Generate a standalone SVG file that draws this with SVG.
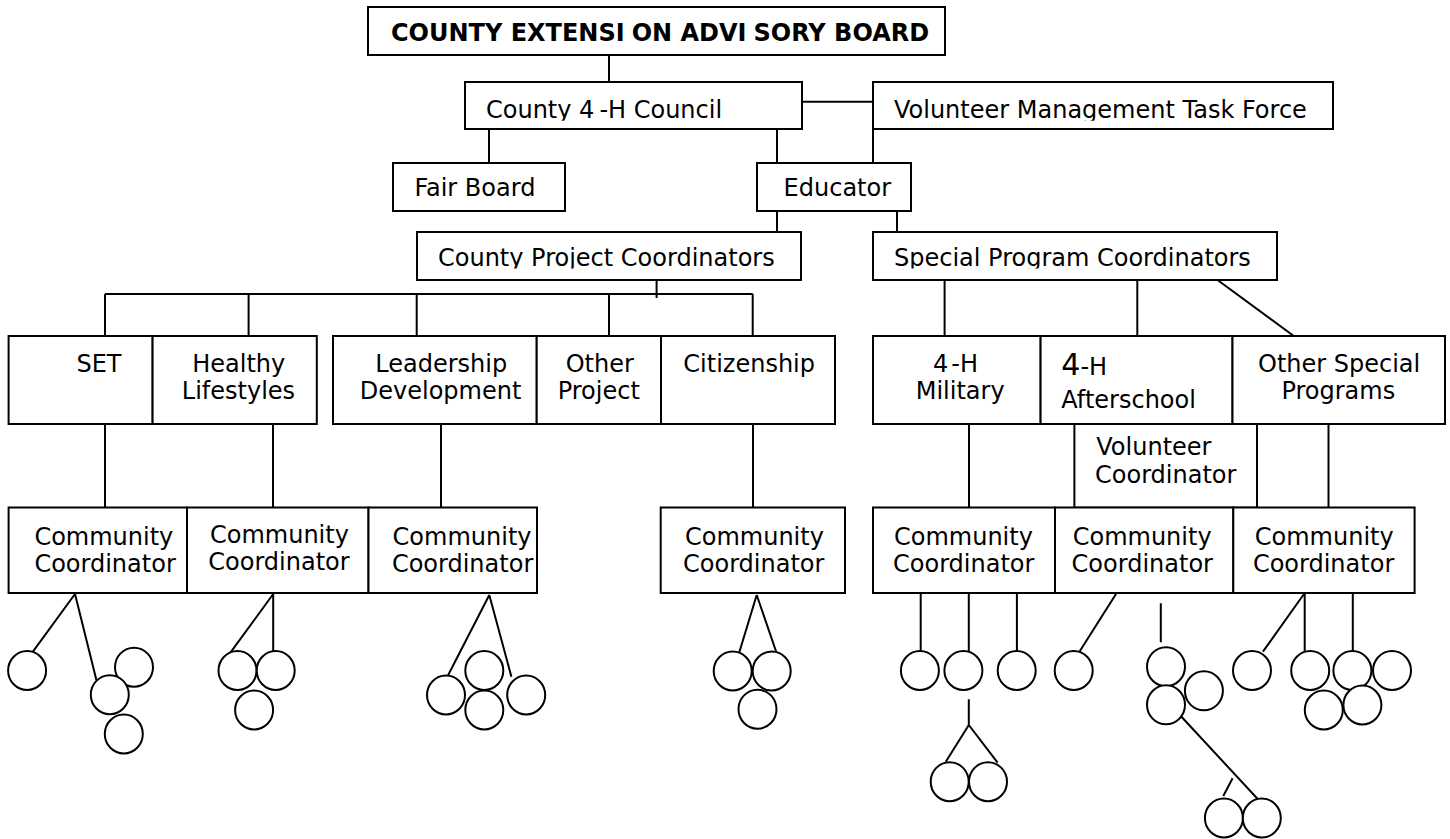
<svg xmlns="http://www.w3.org/2000/svg" width="1450" height="839" viewBox="0 0 1450 839">
<style>
.b{fill:#fff;stroke:#000;stroke-width:2}
.l{stroke:#000;stroke-width:2;fill:none}
.c{fill:#fff;stroke:#000;stroke-width:2}
.t{font-family:"DejaVu Sans",Verdana,sans-serif;font-size:24px;fill:#000}
.h{font-family:"DejaVu Sans",Verdana,sans-serif;font-size:24px;font-weight:bold;fill:#000}
</style>
<defs>
<clipPath id="k1"><rect x="0" y="0" width="1450" height="120.8"/></clipPath>
<clipPath id="k2"><rect x="0" y="0" width="1450" height="268.4"/></clipPath>
</defs>
<rect width="1450" height="839" fill="#fff"/>
<g id="connectors">
<path class="l" d="M609 43V82M801.7 101.7H873M489 123V170M777 123V170M873 129V170M777 207V232M897 207V232M656.6 280V298M105 294H752.7M105 294V342M248.6 294V342M416.7 294V342M609 294V342M752.7 294V342M944.6 273V342M1137.3 273V342M1208 273L1306 345M105 413V510M273 413V510M441 413V510M753 413V510M969 413V510M1328.5 413V510M1184.5 417V437"/>
<path class="l" d="M75 594L32.9 651.7M75 594L96.4 680M273.2 594L230.4 652.7M273.2 594V651.7M489.3 595L448.2 675M489.3 595L511.4 676.7M756.7 595L739 653.3M756.7 595L776.7 653.3"/>
<path class="l" d="M920.7 594V651.7M968.8 594V651.7M1016.9 594V651.7M968.8 699.3V725L945.8 761.7M968.8 725L997.6 762.7M1116 594L1075.3 658.3M1160.8 603.3V642.3M1178.9 714L1257.7 799M1232.6 778.3L1223.3 796M1304.7 593L1262.9 651.7M1304.7 593V651.7M1352.8 593V651.7"/>
</g>
<g id="advisory-board"><rect class="b" x="368" y="7" width="577" height="48"/><text class="h" x="391" y="41">COUNTY EXTENSI<tspan dx="7">ON ADVI</tspan><tspan dx="7">SORY BOARD</tspan></text></g>
<g id="council"><rect class="b" x="465" y="82" width="337" height="47"/><text class="t" x="486" y="118" clip-path="url(#k1)">County 4<tspan dx="5">-H Council</tspan></text></g>
<g id="vmtf"><rect class="b" x="873" y="82" width="460" height="47"/><text class="t" x="894" y="118" clip-path="url(#k1)">Volunteer Management Task Force</text></g>
<g id="fair-board"><rect class="b" x="393" y="163" width="172" height="48"/><text class="t" x="414.4" y="196">Fair Board</text></g>
<g id="educator"><rect class="b" x="757" y="163" width="154" height="48"/><text class="t" x="783.6" y="196">Educator</text></g>
<g id="cpc"><rect class="b" x="417" y="232" width="384" height="48"/><text class="t" x="438" y="265.7" clip-path="url(#k2)">County Project Coordinators</text></g>
<g id="spc"><rect class="b" x="873" y="232" width="404" height="48"/><text class="t" x="894" y="265.7" clip-path="url(#k2)">Special Program Coordinators</text></g>
<g id="set"><rect class="b" x="8.6" y="336" width="144" height="88"/><text class="t" x="76.4" y="371.7">SET</text></g>
<g id="healthy"><rect class="b" x="152.6" y="336" width="164.2" height="88"/><text class="t" x="192.2" y="371.7">Healthy</text><text class="t" x="181.8" y="399">Lifestyles</text></g>
<g id="leadership"><rect class="b" x="333" y="336" width="203.7" height="88"/><text class="t" x="375.3" y="371.7">Leadership</text><text class="t" x="359.8" y="398.5">Development</text></g>
<g id="other-project"><rect class="b" x="536.7" y="336" width="124.3" height="88"/><text class="t" x="565.7" y="371.7">Other</text><text class="t" x="557.7" y="399">Project</text></g>
<g id="citizenship"><rect class="b" x="661" y="336" width="174" height="88"/><text class="t" x="683.3" y="371.7">Citizenship</text></g>
<g id="military"><rect class="b" x="873" y="336" width="167.6" height="88"/><text class="t" x="933" y="371.7">4<tspan dx="3">-H</tspan></text><text class="t" x="915.7" y="398.5">Military</text></g>
<g id="afterschool"><rect class="b" x="1040.6" y="336" width="191.9" height="88"/><text class="t" x="1061.3" y="375"><tspan font-size="30">4</tspan>-H</text><text class="t" x="1061.3" y="408.3">Afterschool</text></g>
<g id="other-special"><rect class="b" x="1232.5" y="336" width="212.5" height="88"/><text class="t" x="1258" y="371.7">Other Special</text><text class="t" x="1281.4" y="398.5">Programs</text></g>
<g id="volunteer-coordinator"><rect class="b" x="1074.4" y="424" width="182.6" height="83.7"/><text class="t" x="1096.3" y="455">Volunteer</text><text class="t" x="1095" y="483.3">Coordinator</text></g>
<g id="cc1"><rect class="b" x="8.6" y="507.5" width="178.4" height="85.5"/><text class="t" x="34.4" y="545">Community</text><text class="t" x="34.4" y="571.7">Coordinator</text></g>
<g id="cc2"><rect class="b" x="187" y="507.5" width="181.5" height="85.5"/><text class="t" x="210" y="543">Community</text><text class="t" x="208.3" y="569.7">Coordinator</text></g>
<g id="cc3"><rect class="b" x="368.5" y="507.5" width="168.5" height="85.5"/><text class="t" x="392.6" y="545">Community</text><text class="t" x="391.9" y="571.7">Coordinator</text></g>
<g id="cc4"><rect class="b" x="660.7" y="507.5" width="184.3" height="85.5"/><text class="t" x="685" y="545">Community</text><text class="t" x="683" y="571.7">Coordinator</text></g>
<g id="cc5"><rect class="b" x="873" y="507.5" width="182" height="85.5"/><text class="t" x="894" y="545">Community</text><text class="t" x="893" y="571.7">Coordinator</text></g>
<g id="cc6"><rect class="b" x="1055" y="507.5" width="178.3" height="85.5"/><text class="t" x="1072.7" y="545">Community</text><text class="t" x="1071.6" y="571.7">Coordinator</text></g>
<g id="cc7"><rect class="b" x="1233.3" y="507.5" width="181.3" height="85.5"/><text class="t" x="1254.8" y="545">Community</text><text class="t" x="1252.9" y="571.7">Coordinator</text></g>
<g id="members">
<ellipse class="c" cx="27.1" cy="670.5" rx="19" ry="19.5"/>
<ellipse class="c" cx="134" cy="667.2" rx="19" ry="19.5"/>
<ellipse class="c" cx="109.8" cy="694.7" rx="19" ry="19.5"/>
<ellipse class="c" cx="123.8" cy="734" rx="19" ry="19.5"/>
<ellipse class="c" cx="237.5" cy="670.5" rx="19" ry="19.5"/>
<ellipse class="c" cx="275.7" cy="670.5" rx="19" ry="19.5"/>
<ellipse class="c" cx="254.1" cy="710" rx="19" ry="19.5"/>
<ellipse class="c" cx="484.3" cy="670.5" rx="19" ry="19.5"/>
<ellipse class="c" cx="446" cy="695" rx="19" ry="19.5"/>
<ellipse class="c" cx="484.3" cy="710" rx="19" ry="19.5"/>
<ellipse class="c" cx="526.2" cy="695" rx="19" ry="19.5"/>
<ellipse class="c" cx="732.7" cy="671" rx="19" ry="19.5"/>
<ellipse class="c" cx="771.7" cy="671" rx="19" ry="19.5"/>
<ellipse class="c" cx="757.5" cy="709.2" rx="19" ry="19.5"/>
<ellipse class="c" cx="919.9" cy="670.5" rx="19" ry="19.5"/>
<ellipse class="c" cx="963.4" cy="670.5" rx="19" ry="19.5"/>
<ellipse class="c" cx="1016.7" cy="670.5" rx="19" ry="19.5"/>
<ellipse class="c" cx="949.7" cy="781.7" rx="19" ry="19.5"/>
<ellipse class="c" cx="988" cy="781.7" rx="19" ry="19.5"/>
<ellipse class="c" cx="1073.7" cy="670.5" rx="19" ry="19.5"/>
<ellipse class="c" cx="1166" cy="666.7" rx="19" ry="19.5"/>
<ellipse class="c" cx="1203.9" cy="690.8" rx="19" ry="19.5"/>
<ellipse class="c" cx="1166" cy="704.8" rx="19" ry="19.5"/>
<ellipse class="c" cx="1223.9" cy="818" rx="19" ry="19.5"/>
<ellipse class="c" cx="1261.8" cy="818" rx="19" ry="19.5"/>
<ellipse class="c" cx="1252" cy="670.5" rx="19" ry="19.5"/>
<ellipse class="c" cx="1310.2" cy="670.5" rx="19" ry="19.5"/>
<ellipse class="c" cx="1392" cy="670.5" rx="19" ry="19.5"/>
<ellipse class="c" cx="1352.4" cy="670.5" rx="19" ry="19.5"/>
<ellipse class="c" cx="1323.8" cy="710" rx="19" ry="19.5"/>
<ellipse class="c" cx="1362.4" cy="705" rx="19" ry="19.5"/>
</g>
</svg>
